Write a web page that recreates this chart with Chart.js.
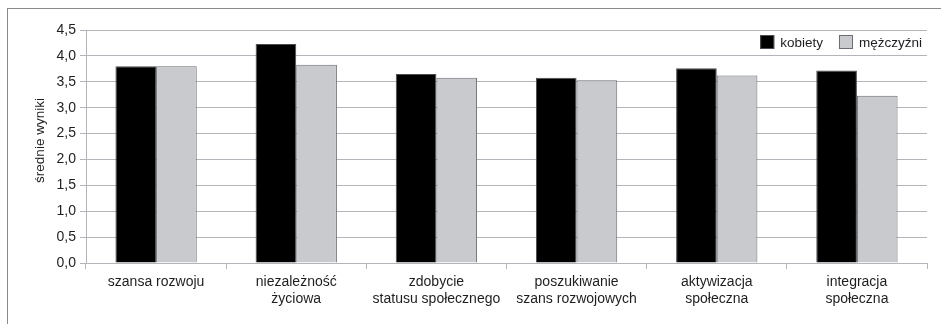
<!DOCTYPE html>
<html>
<head>
<meta charset="utf-8">
<script src="https://cdn.jsdelivr.net/npm/chart.js@4/dist/chart.umd.min.js"></script>
<style>
  html, body { margin: 0; padding: 0; background: #ffffff; }
  #wrap { position: relative; width: 941px; height: 324px; }
</style>
</head>
<body>
<div id="wrap"><canvas id="chart" width="941" height="324"></canvas></div>
<script>
// Categories (multi-line labels) and mean scores per group
const categories = [
  ['szansa rozwoju'],
  ['niezależność', 'życiowa'],
  ['zdobycie', 'statusu społecznego'],
  ['poszukiwanie', 'szans rozwojowych'],
  ['aktywizacja', 'społeczna'],
  ['integracja', 'społeczna']
];
const kobiety = [3.80, 4.23, 3.65, 3.58, 3.76, 3.72];
const mezczyzni = [3.80, 3.83, 3.58, 3.53, 3.62, 3.23];
const seriesNames = ['kobiety', 'mężczyźni'];
const yTicks = [0, 0.5, 1.0, 1.5, 2.0, 2.5, 3.0, 3.5, 4.0, 4.5];
const yTitle = 'średnie wyniki';

const FONT = 'Liberation Sans, Arial, sans-serif';
const GRID = '#b4b5bb';
const TEXT = '#1e1e1e';

// Thin frame around the figure (left and top edges visible)
const framePlugin = {
  id: 'frame',
  beforeDraw(chart) {
    const ctx = chart.ctx;
    ctx.save();
    ctx.strokeStyle = '#8a8a8a';
    ctx.lineWidth = 1;
    ctx.strokeRect(7.5, 8.5, 960, 340);
    ctx.restore();
  }
};

// Rotated value-axis title
const yTitlePlugin = {
  id: 'yTitle',
  afterDraw(chart) {
    const ctx = chart.ctx;
    const area = chart.chartArea;
    ctx.save();
    ctx.font = '13.5px ' + FONT;
    ctx.fillStyle = TEXT;
    ctx.textAlign = 'center';
    ctx.textBaseline = 'middle';
    ctx.translate(40, (area.top + area.bottom) / 2 - 6);
    ctx.rotate(-Math.PI / 2);
    ctx.fillText(yTitle, 0, 0);
    ctx.restore();
  }
};

// Legend drawn inside the plot, top-right corner
const legendPlugin = {
  id: 'insideLegend',
  afterDraw(chart) {
    const ctx = chart.ctx;
    const area = chart.chartArea;
    ctx.save();
    ctx.font = '13.5px ' + FONT;
    ctx.textBaseline = 'middle';
    const box = 14, gapBox = 6, gapItem = 16;
    const items = chart.data.datasets.map(ds => ({
      text: ds.label, fill: ds.backgroundColor, stroke: ds.borderColor,
      w: box + gapBox + ctx.measureText(ds.label).width
    }));
    const total = items.reduce((s, it) => s + it.w, 0) + gapItem * (items.length - 1);
    let x = area.right - 5 - total;
    const cy = area.top + 12;
    items.forEach(it => {
      ctx.fillStyle = it.fill;
      ctx.fillRect(x, cy - box / 2, box, box);
      ctx.strokeStyle = it.stroke;
      ctx.lineWidth = 1;
      ctx.strokeRect(x + 0.5, cy - box / 2 + 0.5, box - 1, box - 1);
      ctx.fillStyle = TEXT;
      ctx.textAlign = 'left';
      ctx.fillText(it.text, x + box + gapBox, cy + 1);
      x += it.w + gapItem;
    });
    ctx.restore();
  }
};

new Chart(document.getElementById('chart'), {
  type: 'bar',
  data: {
    labels: categories,
    datasets: [
      {
        label: seriesNames[0],
        data: kobiety,
        backgroundColor: '#000000',
        borderColor: '#4a4c50',
        borderWidth: 1
      },
      {
        label: seriesNames[1],
        data: mezczyzni,
        backgroundColor: '#c9cacd',
        borderColor: '#6a6c70',
        borderWidth: 1
      }
    ]
  },
  options: {
    responsive: false,
    animation: false,
    devicePixelRatio: 1,
    layout: { padding: { top: 30, right: 14, bottom: 0, left: 0 } },
    datasets: { bar: { categoryPercentage: 0.58, barPercentage: 1.0 } },
    plugins: {
      legend: { display: false },
      tooltip: { enabled: false },
      title: { display: false }
    },
    scales: {
      x: {
        offset: true,
        afterFit(scale) { scale.height = 61; },
        grid: {
          offset: true,
          drawOnChartArea: false,
          drawTicks: true,
          tickLength: 6,
          color: GRID
        },
        border: { display: true, color: GRID, width: 1 },
        ticks: {
          color: TEXT,
          font: { family: FONT, size: 14, lineHeight: 1.18 },
          padding: 5,
          maxRotation: 0,
          autoSkip: false
        }
      },
      y: {
        min: 0,
        max: 4.5,
        afterFit(scale) { scale.width = 86; },
        afterBuildTicks(scale) { scale.ticks = yTicks.map(v => ({ value: v })); },
        grid: {
          color: GRID,
          drawTicks: true,
          tickLength: 6
        },
        border: { display: true, color: GRID, width: 1 },
        ticks: {
          color: TEXT,
          font: { family: FONT, size: 14 },
          padding: 4,
          callback: v => v.toFixed(1).replace('.', ',')
        },
        title: { display: false }
      }
    }
  },
  plugins: [framePlugin, yTitlePlugin, legendPlugin]
});
</script>
</body>
</html>
